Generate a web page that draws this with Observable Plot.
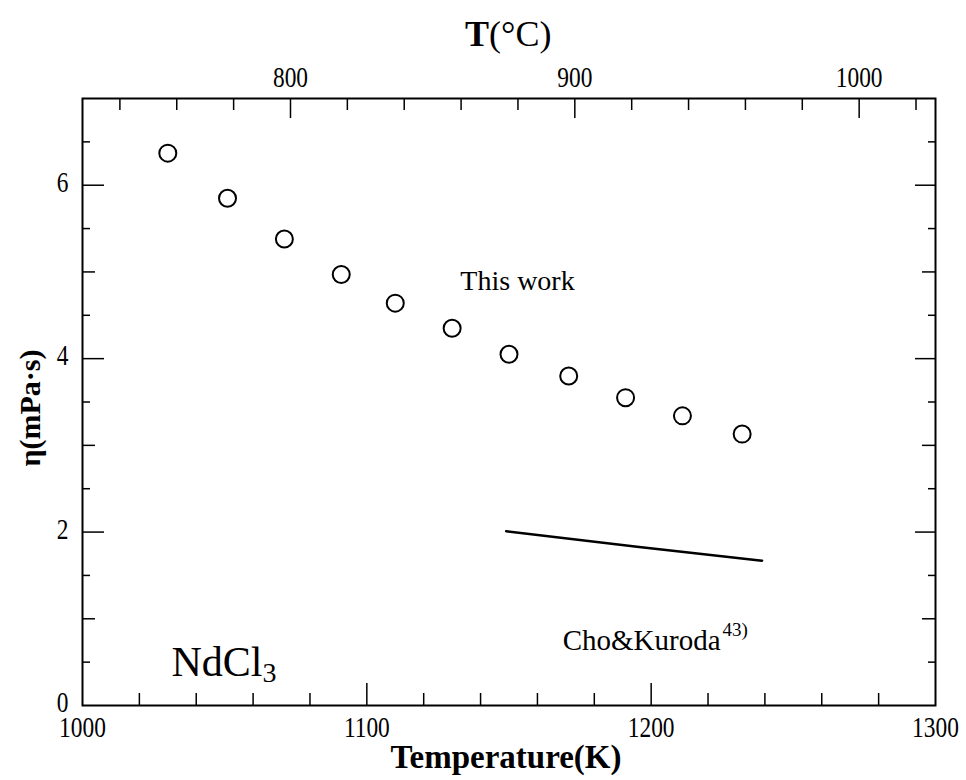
<!DOCTYPE html>
<html><head><meta charset="utf-8">
<script src="https://cdn.jsdelivr.net/npm/d3@7"></script>
<script src="https://cdn.jsdelivr.net/npm/@observablehq/plot@0.6"></script>
<style>body{margin:0;background:#fff} svg{display:block}</style>
</head><body><div id="chart"></div>
<script>
// ---- data ----
const tempK = [1030, 1051, 1071, 1091, 1110, 1130, 1150, 1171, 1191, 1211, 1232];
const viscosity = [6.37, 5.85, 5.38, 4.97, 4.64, 4.35, 4.05, 3.80, 3.55, 3.34, 3.13];
const choKurodaT = [1149, 1195, 1239];
const choKurodaEta = [2.01, 1.83, 1.67];

// ---- tick values ----
const xTickLabelsK = [1000, 1100, 1200, 1300];
const xMinorK = [1020, 1040, 1060, 1080, 1100, 1120, 1140, 1160, 1180, 1200, 1220, 1240, 1260, 1280];
const xMajorK = [1100, 1200];
const topTickLabelsC = [800, 900, 1000];
const topMinorC = [740, 760, 780, 800, 820, 840, 860, 880, 900, 920, 940, 960, 980, 1000, 1020];
const yTickLabels = [0, 2, 4, 6];
const yMinor = [0.5, 1, 1.5, 2, 2.5, 3, 3.5, 4, 4.5, 5, 5.5, 6, 6.5];

// ---- annotations ----
const annoThisWork = [{T: 1153, eta: 4.89, text: "This work"}];
const annoSalt = [{T: 1063.3, eta: 0.50, text: "NdCl", sub: "3"}];
const annoRef = [{T: 1224.4, eta: 0.75, text: "Cho&Kuroda", sup: "43)"}];

const KELVIN = 273.15;
const xDomain = [1000, 1300], yDomain = [0, 7];
const W = 966, H = 780, mL = 82, mR = 31, mT = 98, mB = 75;
const pxX = (W - mL - mR) / (xDomain[1] - xDomain[0]);
const pxY = (H - mT - mB) / (yDomain[1] - yDomain[0]);

const points = tempK.map((t, i) => ({T: t, eta: viscosity[i]}));
const cho = choKurodaT.map((t, i) => ({T: t, eta: choKurodaEta[i]}));

const bottomTicks = xMinorK.map(v => ({T: v, len: xMajorK.includes(v) ? 22 : 12}));
const topTicks = topMinorC.map(c => ({T: c + KELVIN, len: topTickLabelsC.includes(c) ? 20 : 12}));
const leftTicks = yMinor.map(v => ({eta: v, len: v % 2 === 0 ? 22 : (v % 1 === 0 ? 13 : 8)}));
const rightTicks = yMinor.map(v => ({eta: v, len: v % 2 === 0 ? 20 : (v % 1 === 0 ? 13 : 7)}));

const serif = "'Liberation Serif', 'Times New Roman', serif";

const plot = Plot.plot({
  width: W, height: H,
  marginLeft: mL, marginRight: mR, marginTop: mT, marginBottom: mB,
  style: {fontFamily: serif, background: "white", color: "black", overflow: "visible"},
  x: {domain: xDomain},
  y: {domain: yDomain},
  marks: [
    Plot.frame({stroke: "black", strokeWidth: 2}),
    // inward ticks
    Plot.ruleX(bottomTicks, {x: "T", y1: yDomain[0], y2: d => yDomain[0] + d.len / pxY, strokeWidth: 1.5}),
    Plot.ruleX(topTicks, {x: "T", y1: yDomain[1], y2: d => yDomain[1] - d.len / pxY, strokeWidth: 1.5}),
    Plot.ruleY(leftTicks, {y: "eta", x1: xDomain[0], x2: d => xDomain[0] + d.len / pxX, strokeWidth: 1.5}),
    Plot.ruleY(rightTicks, {y: "eta", x1: xDomain[1], x2: d => xDomain[1] - d.len / pxX, strokeWidth: 1.5}),
    // tick labels
    Plot.axisX({anchor: "bottom", ticks: xTickLabelsK, tickSize: 0, tickPadding: 10, fontSize: 30, label: null, tickFormat: d => String(d)}),
    Plot.axisX({anchor: "top", ticks: topTickLabelsC.map(c => c + KELVIN), tickSize: 0, tickPadding: 12, fontSize: 30, label: null, tickFormat: d => String(Math.round(d - KELVIN))}),
    Plot.axisY({anchor: "left", ticks: yTickLabels, tickSize: 0, tickPadding: 14, fontSize: 30, dy: -3, label: null, tickFormat: d => String(d)}),
    // data
    Plot.line(cho, {x: "T", y: "eta", stroke: "black", strokeWidth: 2.5, curve: "natural"}),
    Plot.dot(points, {x: "T", y: "eta", r: 8.5, stroke: "black", strokeWidth: 2, fill: "white"}),
    // annotations
    Plot.text(annoThisWork, {x: "T", y: "eta", text: "text", fontSize: 28}),
    Plot.text(annoSalt, {x: "T", y: "eta", text: "text", fontSize: 42, textAnchor: "end"}),
    Plot.text(annoSalt, {x: "T", y: "eta", text: "sub", fontSize: 28, textAnchor: "start", dy: 11}),
    Plot.text(annoRef, {x: "T", y: "eta", text: "text", fontSize: 29, textAnchor: "end"}),
    Plot.text(annoRef, {x: "T", y: "eta", text: "sup", fontSize: 19, textAnchor: "start", dx: 2, dy: -11}),
    // axis titles
    Plot.text(["Temperature(K)"], {frameAnchor: "bottom", lineAnchor: "middle", textAnchor: "middle", dy: 52, dx: -3, fontSize: 33, fontWeight: "bold"}),
    Plot.text(["T"], {frameAnchor: "top", lineAnchor: "middle", dy: -64, dx: -20, fontSize: 36, fontWeight: "bold", textAnchor: "end"}),
    Plot.text(["(°C)"], {frameAnchor: "top", lineAnchor: "middle", dy: -64, dx: -20, fontSize: 36, textAnchor: "start"}),
    Plot.text(["η(mPa·s)"], {frameAnchor: "left", lineAnchor: "middle", textAnchor: "middle", dx: -52, dy: 6, rotate: -90, fontSize: 30, fontWeight: "bold"})
  ]
});
// narrow the tick-label digits like the condensed face of the original
plot.querySelectorAll('g[aria-label$="tick label"] text').forEach(t => {
  const tr = t.getAttribute("transform");
  if (tr && tr.includes("translate")) t.setAttribute("transform", tr + " scale(0.78,1)");
});
document.getElementById("chart").appendChild(plot);
</script>
</body></html>
